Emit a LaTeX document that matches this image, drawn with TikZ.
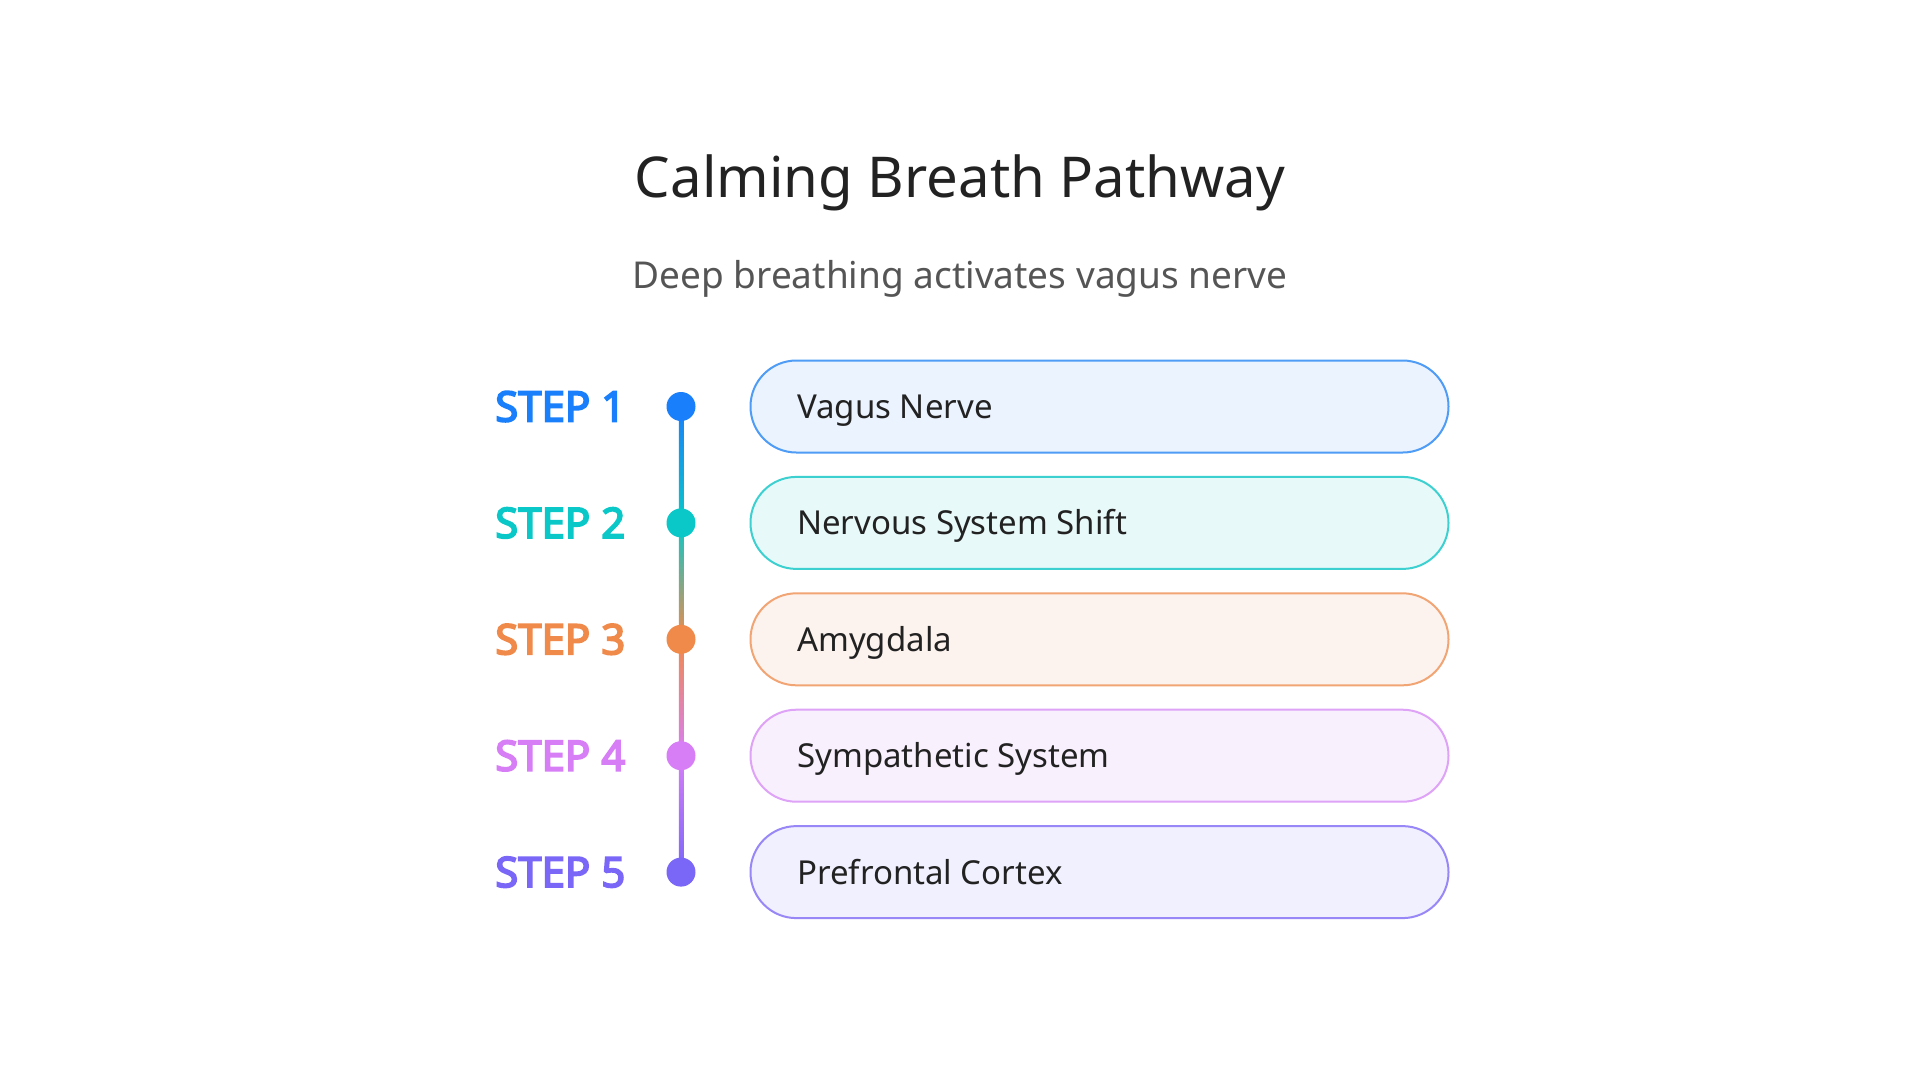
\documentclass[tikz,border=0pt]{standalone}
\usepackage{fontspec}
\setmainfont{Noto Sans}
\newfontfamily\stepfont{Noto Sans}[FakeBold=4]
\usetikzlibrary{calc}

\definecolor{ink}{HTML}{222222}
\definecolor{subink}{HTML}{555555}
\definecolor{c1}{HTML}{1A7FFA}
\definecolor{c2}{HTML}{0BC8C8}
\definecolor{c3}{HTML}{F08A4B}
\definecolor{c4}{HTML}{D77EF7}
\definecolor{c5}{HTML}{7A67F8}
\definecolor{e1}{HTML}{4E9CF5}
\definecolor{e2}{HTML}{3DD0D0}
\definecolor{e3}{HTML}{F2A574}
\definecolor{e4}{HTML}{DEA2F7}
\definecolor{e5}{HTML}{9887F7}
\definecolor{f1}{HTML}{EBF3FE}
\definecolor{f2}{HTML}{E8F9F9}
\definecolor{f3}{HTML}{FDF3EE}
\definecolor{f4}{HTML}{F9F0FE}
\definecolor{f5}{HTML}{F1F0FE}

\tikzset{
  steplabel/.style={font=\stepfont\fontsize{42}{50}\selectfont, anchor=base west, inner sep=0pt},
  stepdot/.style={circle, inner sep=0pt, minimum size=29pt},
  pill/.style={rectangle, rounded corners=45.9pt, line width=2pt, minimum width=698pt, minimum height=92pt},
  pilltext/.style={font=\fontsize{33}{40}\selectfont, text=ink, anchor=base west, inner sep=0pt},
}

\begin{document}
\begin{tikzpicture}[x=1pt,y=-1pt]
  \useasboundingbox[fill=white] (0,0) rectangle (1920,1080);

  % title
  \node[anchor=base, inner sep=0pt, text=ink, font=\fontsize{56.3}{68}\selectfont] (title) at (960,197) {Calming Breath Pathway};
  \node[anchor=base, inner sep=0pt, text=subink, font=\fontsize{37}{44}\selectfont] (subtitle) at (960,288) {Deep breathing activates vagus nerve};

  % rows
  \foreach \i/\txt in {1/Vagus Nerve, 2/Nervous System Shift, 3/Amygdala, 4/Sympathetic System, 5/Prefrontal Cortex} {
    \pgfmathsetmacro{\ry}{406.5+(\i-1)*116.4}
    \node[steplabel, text=c\i] (s\i) at (495,\ry+15) {STEP \i};
    \node[stepdot] (d\i) at (681,\ry) {};
    \node[pill, draw=e\i, fill=f\i] (b\i) at (1099.5,\ry) {};
    \node[pilltext] (t\i) at (797,\ry+12) {\txt};
  }

  % timeline
  \foreach \i/\j in {1/2, 2/3, 3/4, 4/5}
    \shade[top color=c\i, bottom color=c\j] ($(d\i.center)+(-2.25,0)$) rectangle ($(d\j.center)+(2.25,0)$);
  \foreach \i in {1,...,5}
    \fill[c\i] (d\i) circle (14.5);
\end{tikzpicture}
\end{document}
